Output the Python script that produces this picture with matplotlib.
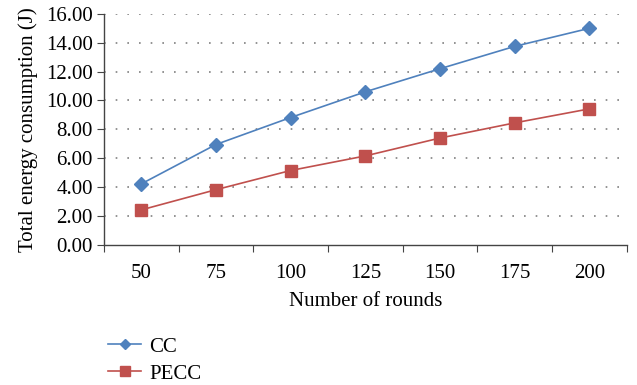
import matplotlib
matplotlib.use("Agg")
import matplotlib.pyplot as plt
import numpy as np

rounds = ["50", "75", "100", "125", "150", "175", "200"]
cc = [4.22, 6.95, 8.82, 10.60, 12.20, 13.75, 15.00]
pecc = [2.42, 3.82, 5.15, 6.16, 7.40, 8.45, 9.42]
yticks = [0, 2, 4, 6, 8, 10, 12, 14, 16]

plt.rcParams['font.family'] = ['Liberation Serif', 'DejaVu Serif']
FS = 15
fig = plt.figure(figsize=(6.37, 3.85), dpi=100)
ax = fig.add_axes([0.163, 0.364, 0.821, 0.6])

x = np.arange(len(rounds))
ax.plot(x, cc, color='#4F81BD', marker='D', markersize=7, lw=1.2, label='CC',
        markeredgecolor='#4F81BD')
ax.plot(x, pecc, color='#C0504D', marker='s', markersize=9, lw=1.2, label='PECC',
        markeredgecolor='#C0504D')

ax.set_xlim(-0.5, len(rounds) - 0.5)
ax.set_ylim(0, 16)
ax.set_yticks(yticks)
ax.set_yticklabels([f"{v:.2f}" for v in yticks], fontsize=FS)
ax.set_xticks(np.arange(-0.5, len(rounds)))
ax.set_xticklabels([])
ax.set_xticks(x, minor=True)
ax.set_xticklabels(rounds, minor=True, fontsize=FS)
ax.tick_params(axis='x', which='minor', length=0, pad=14)
ax.tick_params(axis='x', which='major', length=5, color='#444444', direction='out')
ax.tick_params(axis='y', length=5, color='#444444', direction='out', pad=3)

for y in yticks[1:]:
    ax.axhline(y, color='#808080', lw=1.2, linestyle=(0, (1, 6)), zorder=0)

for s in ['top', 'right']:
    ax.spines[s].set_visible(False)
for s in ['left', 'bottom']:
    ax.spines[s].set_color('#444444')
    ax.spines[s].set_linewidth(1.0)

ax.set_xlabel("Number of rounds", fontsize=FS, labelpad=6)
ax.set_ylabel("Total energy consumption (J)", fontsize=FS, labelpad=6)

handles, labels = ax.get_legend_handles_labels()
fig.legend(handles, labels, loc='lower left', bbox_to_anchor=(0.14, -0.045),
           frameon=False, fontsize=FS, handlelength=1.6, labelspacing=0.35,
           handletextpad=0.4, markerscale=0.8)

fig.savefig("out.png", dpi=100)
